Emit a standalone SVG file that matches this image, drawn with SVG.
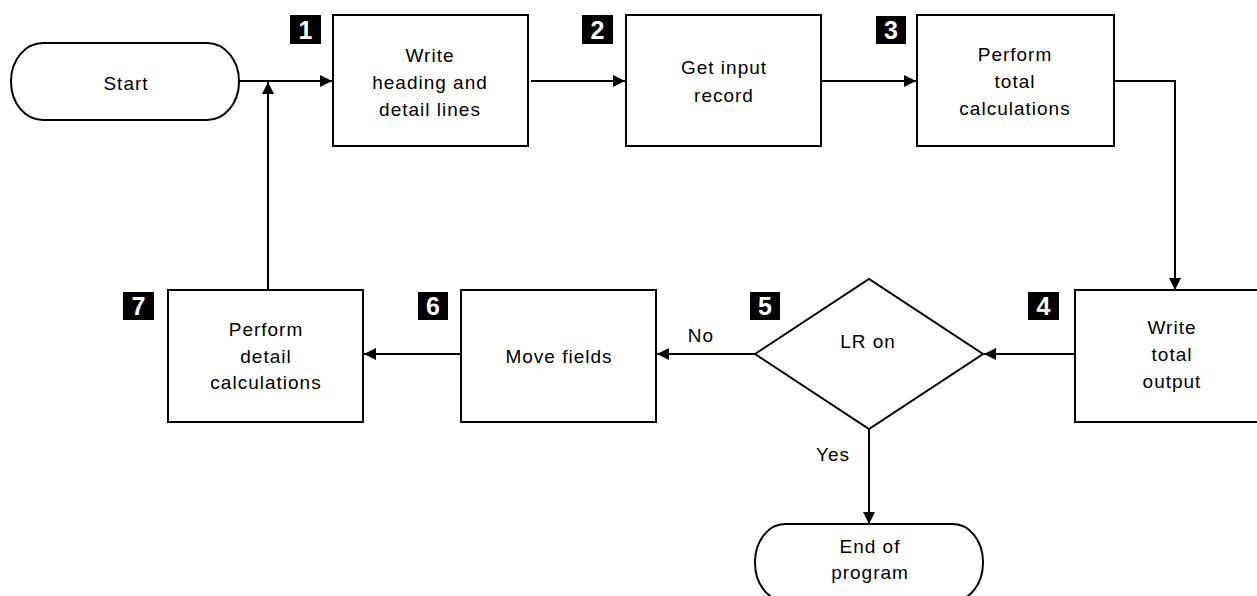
<svg xmlns="http://www.w3.org/2000/svg" width="1257" height="596" viewBox="0 0 1257 596">
<defs>
<marker id="ah" viewBox="0 0 12 12" refX="12" refY="6" markerWidth="12" markerHeight="12" markerUnits="userSpaceOnUse" orient="auto">
<path d="M0,0 L12,6 L0,12 Z" fill="#000"/>
</marker>
</defs>
<style>
.sh{fill:#fff;stroke:#000;stroke-width:2}
.t{font-family:"Liberation Sans",Arial,sans-serif;font-size:19px;letter-spacing:1px;text-anchor:middle;fill:#000}
.bg{fill:#000}
.bn{font-family:"Liberation Sans",Arial,sans-serif;font-size:25px;font-weight:bold;text-anchor:middle;fill:#fff}
.c{fill:none;stroke:#000;stroke-width:2}
</style>
<rect width="1257" height="596" fill="#fff"/>
<g id="connectors">
<path class="c" d="M239,81 H332" marker-end="url(#ah)"/>
<path class="c" d="M268,290 V82" marker-end="url(#ah)"/>
<path class="c" d="M531,81 H625" marker-end="url(#ah)"/>
<path class="c" d="M821,81 H916" marker-end="url(#ah)"/>
<path class="c" d="M1114,81 H1175 V290" marker-end="url(#ah)"/>
<path class="c" d="M1075,354 H984" marker-end="url(#ah)"/>
<path class="c" d="M755,354 H657" marker-end="url(#ah)"/>
<path class="c" d="M461,354 H364" marker-end="url(#ah)"/>
<path class="c" d="M869,429 V524" marker-end="url(#ah)"/>
<text class="t" x="701" y="342">No</text>
<text class="t" x="833" y="461">Yes</text>
</g>
<g id="start">
<rect class="sh" x="11" y="43" width="228" height="77" rx="32" ry="38"/>
<text class="t" x="126" y="90">Start</text>
</g>
<g id="n1">
<rect class="sh" x="333" y="15" width="195" height="131"/>
<rect class="bg" x="290" y="15" width="31" height="29"/>
<text class="bn" x="305.5" y="39">1</text>
<text class="t" x="430" y="62">Write</text>
<text class="t" x="430" y="89">heading and</text>
<text class="t" x="430" y="116">detail lines</text>
</g>
<g id="n2">
<rect class="sh" x="626" y="15" width="195" height="131"/>
<rect class="bg" x="582" y="15" width="31" height="29"/>
<text class="bn" x="597.5" y="39">2</text>
<text class="t" x="724" y="74">Get input</text>
<text class="t" x="724" y="102">record</text>
</g>
<g id="n3">
<rect class="sh" x="917" y="15" width="197" height="131"/>
<rect class="bg" x="876" y="16" width="30" height="28"/>
<text class="bn" x="891" y="39">3</text>
<text class="t" x="1015" y="61">Perform</text>
<text class="t" x="1015" y="88">total</text>
<text class="t" x="1015" y="115">calculations</text>
</g>
<g id="n4">
<rect class="sh" x="1075" y="290" width="200" height="132"/>
<rect class="bg" x="1028" y="292" width="31" height="28"/>
<text class="bn" x="1043.5" y="315">4</text>
<text class="t" x="1172" y="334">Write</text>
<text class="t" x="1172" y="361">total</text>
<text class="t" x="1172" y="388">output</text>
</g>
<g id="n5">
<path class="sh" d="M755,354 L869,279 L983,354 L869,429 Z"/>
<rect class="bg" x="750" y="292" width="30" height="28"/>
<text class="bn" x="765" y="315">5</text>
<text class="t" x="868" y="348">LR on</text>
</g>
<g id="n6">
<rect class="sh" x="461" y="290" width="195" height="132"/>
<rect class="bg" x="418" y="292" width="30" height="28"/>
<text class="bn" x="433" y="315">6</text>
<text class="t" x="559" y="363">Move fields</text>
</g>
<g id="n7">
<rect class="sh" x="168" y="290" width="195" height="132"/>
<rect class="bg" x="123" y="292" width="31" height="28"/>
<text class="bn" x="138.5" y="315">7</text>
<text class="t" x="266" y="336">Perform</text>
<text class="t" x="266" y="363">detail</text>
<text class="t" x="266" y="389">calculations</text>
</g>
<g id="end">
<rect class="sh" x="755" y="524" width="228" height="77" rx="30" ry="38"/>
<text class="t" x="870" y="553">End of</text>
<text class="t" x="870" y="579">program</text>
</g>
</svg>
